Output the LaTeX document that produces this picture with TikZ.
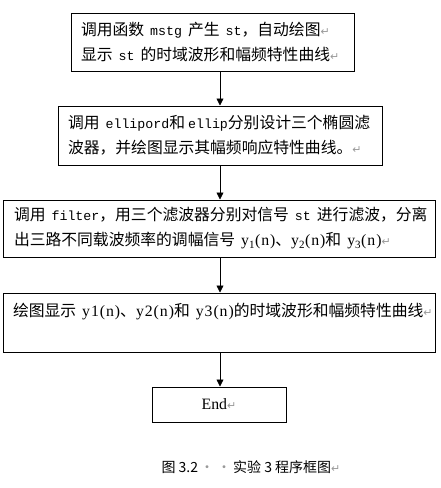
\documentclass[tikz,border=0pt]{standalone}
\usepackage{fontspec}
\setmainfont{Noto Sans CJK SC}
\newfontfamily\codefont{Liberation Mono}[Scale=0.84]
\newfontfamily\romfont{Liberation Serif}[LetterSpace=6]
\newfontfamily\endfont{Liberation Serif}
\newfontfamily\markfont{DejaVu Sans}
\usetikzlibrary{positioning, arrows.meta}

% helpers for mixed text
\newcommand{\code}[1]{{\codefont #1}}
\newcommand{\sig}[1]{{\romfont #1}}
\newcommand{\gap}{\hspace{6pt}}
\newcommand{\pmark}{{\markfont\color{black!40}\fontsize{11}{11}\selectfont ↵}}

\tikzset{
  procbox/.style={draw, line width=1pt, inner xsep=10pt, inner ysep=0pt,
                  align=left, font=\fontsize{15.8}{25}\selectfont},
  flow/.style={-{Triangle[length=7pt,width=7pt]}, line width=0.8pt},
}

\begin{document}
\begin{tikzpicture}[x=1pt, y=-1pt]
    \useasboundingbox (0,0) rectangle (441,488);
    \coordinate (spine) at (220,0);

    % process steps
    \node[procbox, text width=263pt, minimum height=58pt] (mstg) at (212.5,42)
        {调用函数\gap{}\code{mstg}\gap{}产生\gap{}\code{st}，自动绘图\pmark\\
         显示\gap{}\code{st}\gap{}的时域波形和幅频特性曲线\pmark};
    \node[procbox, text width=304pt, minimum height=59pt] (ellip) at (220,135.5)
        {调用\gap{}\code{ellipord}和\hspace{3pt}\code{ellip}分别设计三个椭圆滤\\
         波器，并绘图显示其幅频响应特性曲线。\pmark};
    \node[procbox, inner xsep=11pt, text width=410pt, minimum height=57pt] (filt) at (219,228.5)
        {\mbox{调用\gap{}\code{filter}，用三个滤波器分别对信号\gap{}\code{st}\gap{}进行滤波，分离}\\
         \mbox{出三路不同载波频率的调幅信号\gap{}\sig{y\textsubscript{1}(n)}、\sig{y\textsubscript{2}(n)}和\gap{}\sig{y\textsubscript{3}(n)}\pmark}};
    \node[procbox, text width=412pt, minimum height=59pt] (plot) at (219,322.5)
        {\mbox{绘图显示\gap{}\sig{y1(n)}、\sig{y2(n)}和\gap{}\sig{y3(n)}的时域波形和幅频特性曲线\pmark}\\ \mbox{}};
    \node[procbox, align=center, minimum width=134pt, minimum height=35pt] (done) at (219,404.5)
        {\endfont End\pmark};

    % connectors
    \draw[flow] (mstg.south -| spine) -- (ellip.north -| spine);
    \draw[flow] (ellip.south -| spine) -- (filt.north -| spine);
    \draw[flow] (filt.south -| spine) -- (plot.north -| spine);
    \draw[flow] (plot.south -| spine) -- (done.north -| spine);

    % caption
    \node[font=\fontsize{14}{16}\selectfont] (caption) at (251,467)
        {图 3.2{\color{black!40}\hspace{2pt}·\hspace{3pt}·\hspace{2pt}}实验 3 程序框图\pmark};
\end{tikzpicture}
\end{document}
